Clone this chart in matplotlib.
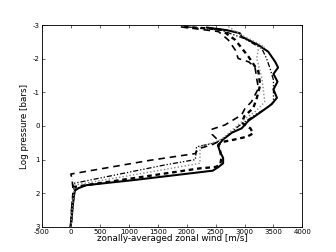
import matplotlib
matplotlib.use("Agg")
import matplotlib.pyplot as plt

# Solid (thick black)
sol_u = [2350, 2700, 2920, 2950, 3240, 3410, 3530, 3580, 3500, 3570, 3500, 3560, 3470, 3270, 3070, 2950, 2780,
         2630, 2540, 2580, 2630, 2630, 2550, 2450, 1080, 270, 130, 70, 50, 30, 15, -10]
sol_p = [-2.93, -2.85, -2.76, -2.66, -2.41, -2.21, -1.91, -1.74, -1.55, -1.32, -1.09, -0.84, -0.65, -0.40, -0.16,
         0.07, 0.20, 0.40, 0.58, 0.78, 0.95, 1.11, 1.22, 1.33, 1.61, 1.76, 1.85, 1.92, 2.10, 2.40, 2.70, 3.00]

# Heavy short dashes
hd_u = [1950, 2400, 2600, 2840, 3070, 3240, 3270, 3210, 3150, 3000, 2950, 3100, 3150, 3040, 2780, 2630, 2550,
        2580, 2600, 2580, 2500, 2230, 70, 40, 20, 0]
hd_p = [-2.95, -2.90, -2.86, -2.56, -2.06, -1.62, -1.22, -0.82, -0.53, -0.30, -0.10, 0.07, 0.22, 0.32, 0.42,
        0.47, 0.55, 0.75, 0.95, 1.15, 1.22, 1.26, 1.81, 2.00, 2.40, 3.00]

# Long dashes
ld_u = [1900, 2550, 2720, 2840, 2890, 3070, 3180, 3210, 3240, 3120, 3010, 2950, 2660, 2430, 2440, 2560, 2450,
        2200, 2150, 1370, 0, 20, 40, 10, 0]
ld_p = [-2.95, -2.81, -2.56, -2.26, -2.01, -1.91, -1.76, -1.42, -1.12, -0.72, -0.53, -0.33, -0.03, 0.10, 0.25,
        0.45, 0.55, 0.68, 0.82, 1.02, 1.43, 1.60, 1.95, 2.50, 3.00]

# Dash-dot-dot
dd_u = [2000, 2600, 3000, 3300, 3380, 3440, 3500, 3500, 3400, 3200, 2900, 2700, 2500, 2170, 2150, 1620, 40, 60,
        30, 0]
dd_p = [-2.95, -2.85, -2.60, -2.30, -2.01, -1.72, -1.37, -0.72, -0.55, -0.35, 0.00, 0.30, 0.50, 0.62, 1.00,
        1.16, 1.71, 1.95, 2.50, 3.00]

# Gray dotted
gd_u = [2720, 2890, 3120, 3350, 3240, 3210, 3300, 3350, 3200, 3000, 2800, 2600, 2490, 2230, 2230, 60, 50, 20, 0]
gd_p = [-2.96, -2.76, -2.56, -2.35, -2.30, -2.01, -1.42, -0.72, -0.45, -0.20, 0.10, 0.40, 0.47, 0.62, 1.11,
        1.76, 2.00, 2.50, 3.00]

x_ticks = [-500, 0, 500, 1000, 1500, 2000, 2500, 3000, 3500, 4000]
y_ticks = [-3, -2, -1, 0, 1, 2, 3]

fig = plt.figure(figsize=(8, 6), dpi=42)
ax = fig.add_axes([0.125, 0.1, 0.775, 0.8])

ax.plot(sol_u, sol_p, color='black', lw=3.5, ls='-')
ax.plot(hd_u, hd_p, color='black', lw=4, dashes=(2, 1.6))
ax.plot(ld_u, ld_p, color='black', lw=2.8, dashes=(4, 3))
ax.plot(dd_u, dd_p, color='black', lw=2.2, dashes=(4, 1.5, 1, 1.5, 1, 1.5))
ax.plot(gd_u, gd_p, color='0.55', lw=2.4, dashes=(1, 1.5))

ax.set_xlim(-500, 4000)
ax.set_ylim(3, -3)
ax.set_xticks(x_ticks)
ax.set_yticks(y_ticks)
ax.set_xticklabels([str(v) for v in x_ticks])
ax.set_yticklabels([str(v) for v in y_ticks])
ax.tick_params(axis='both', direction='in', top=True, right=True, labelsize=12, length=5, width=1)
ax.tick_params(axis='x', pad=4)
ax.tick_params(axis='y', pad=4)
for s in ax.spines.values():
    s.set_linewidth(1.5)
ax.set_xlabel('zonally-averaged zonal wind [m/s]', fontsize=15, labelpad=-2)
ax.set_ylabel('Log pressure [bars]', fontsize=15, labelpad=6)

fig.savefig('out.png', dpi=42, facecolor='white')
